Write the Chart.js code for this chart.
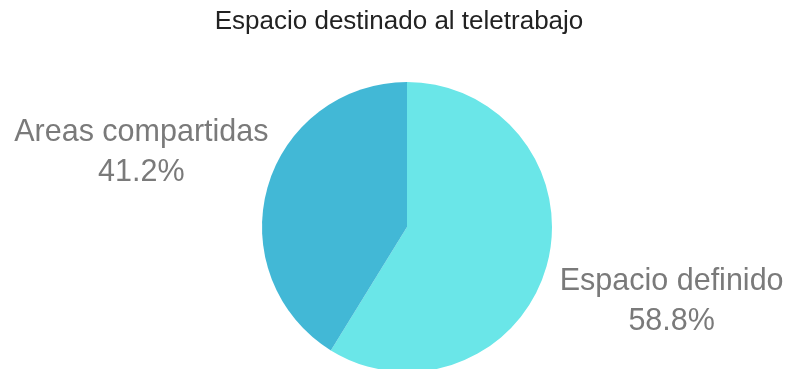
<!DOCTYPE html>
<html>
<head>
<meta charset="utf-8">
<script src="https://cdn.jsdelivr.net/npm/chart.js@4"></script>
<style>
html,body{margin:0;padding:0;background:#fff;overflow:hidden;}
#wrap{position:relative;width:786px;height:372px;}
</style>
</head>
<body>
<div id="wrap"><canvas id="c"></canvas></div>
<script>
const titleText = 'Espacio destinado al teletrabajo';
const categories = ['Espacio definido', 'Areas compartidas'];
const values = [58.8, 41.2];
const colors = ['#6ae6e8', '#42b8d6'];

const labelPlugin = {
  id: 'outLabels',
  afterDatasetsDraw(chart) {
    const ctx = chart.ctx;
    const meta = chart.getDatasetMeta(0);
    ctx.save();
    ctx.textAlign = 'center';
    ctx.textBaseline = 'middle';
    // title
    ctx.font = '26px "Liberation Sans", Arial, sans-serif';
    ctx.fillStyle = '#222';
    ctx.fillText(titleText, 399, 22);
    // slice labels
    ctx.font = '30.5px "Liberation Sans", Arial, sans-serif';
    ctx.fillStyle = '#7a7a7a';
    meta.data.forEach((arc, i) => {
      const p = arc.getProps(['x','y','startAngle','endAngle','outerRadius'], true);
      const mid = (p.startAngle + p.endAngle) / 2;
      const d = p.outerRadius * 1.89;
      const cx = p.x + Math.cos(mid) * d + (i === 0 ? 1 : -2);
      const cy = p.y + Math.sin(mid) * d;
      ctx.fillText(categories[i], cx, cy - 20);
      ctx.fillText(values[i].toFixed(1) + '%', cx, cy + 20);
    });
    ctx.restore();
  }
};

new Chart(document.getElementById('c'), {
  type: 'pie',
  data: {
    labels: categories,
    datasets: [{ data: values, backgroundColor: colors, borderWidth: 0 }]
  },
  options: {
    responsive: true,
    maintainAspectRatio: false,
    animation: false,
    layout: { padding: { left: 28, right: 0, top: 82, bottom: 0 } },
    plugins: {
      legend: { display: false },
      tooltip: { enabled: false },
      title: { display: false }
    }
  },
  plugins: [labelPlugin]
});
</script>
</body>
</html>
